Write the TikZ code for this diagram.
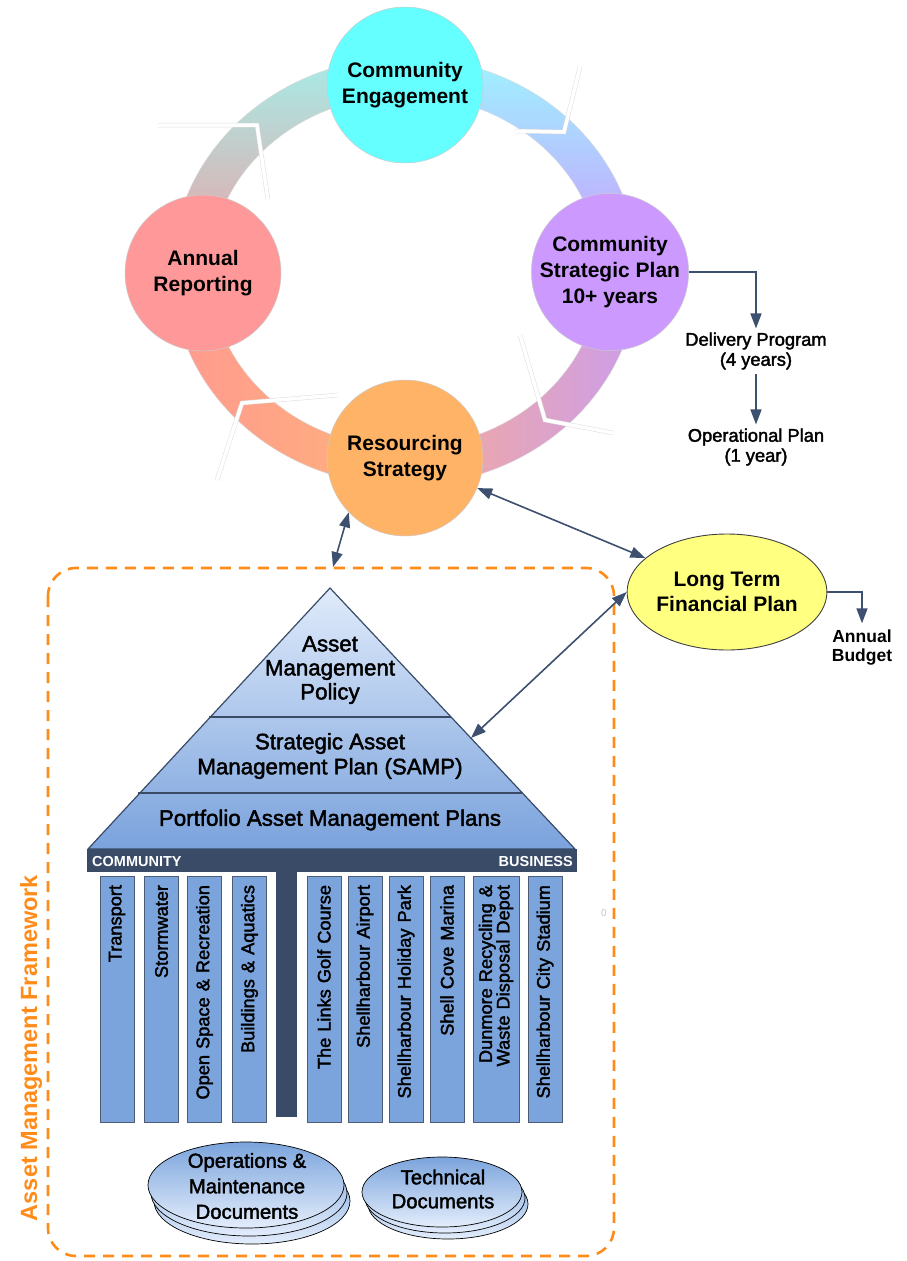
\documentclass[tikz,border=0pt]{standalone}
\usepackage{fontspec}
\setmainfont{Liberation Sans}
\newfontfamily\medfont{Liberation Sans}[FakeBold=2]
\usetikzlibrary{arrows.meta,calc,shapes.geometric}

\definecolor{navy}{HTML}{3D5070}
\definecolor{slate}{HTML}{3A4B68}
\definecolor{colblue}{HTML}{7BA4DC}
\definecolor{colline}{HTML}{4D5D75}
\definecolor{pyrtop}{HTML}{E0EBFB}
\definecolor{pyrbot}{HTML}{7AA2DC}
\definecolor{framecol}{HTML}{FF8C1A}
\definecolor{cecol}{HTML}{66FFFF}
\definecolor{arcol}{HTML}{FF9999}
\definecolor{cspcol}{HTML}{CC99FF}
\definecolor{rscol}{HTML}{FFB366}
\definecolor{ltcol}{HTML}{FFFF80}
\definecolor{ringA}{HTML}{A6ECE7}
\definecolor{ringB}{HTML}{EE9FA3}
\definecolor{ringC}{HTML}{9EF3FF}
\definecolor{ringD}{HTML}{CC98FF}
\definecolor{ringE}{HTML}{F6AA98}
\definecolor{ringF}{HTML}{CC9EEA}
\definecolor{ringG}{HTML}{FF9A90}
\definecolor{ringH}{HTML}{FFB37A}

\tikzset{
  stage/.style={circle, minimum size=156pt, inner sep=0pt, draw=gray!40, line width=0.5pt,
    align=center, font=\bfseries\fontsize{21}{26}\selectfont},
  small/.style={align=center, inner sep=1pt, font=\medfont\fontsize{18.3}{20}\selectfont},
  pyrtext/.style={align=center, inner sep=0pt, font=\medfont\fontsize{22.3}{24}\selectfont},
  colbox/.style={rotate=90, draw=colline, fill=colblue, line width=0.8pt, minimum height=34pt,
    text width=228pt, align=right, inner xsep=9pt, inner ysep=0pt,
    font=\medfont\fontsize{18.2}{17.5}\selectfont},
  arr/.style={draw=navy, line width=1.6pt, -{Triangle[length=15pt,width=11pt]}},
  darr/.style={draw=navy, line width=1.6pt, {Triangle[length=15pt,width=11pt]}-{Triangle[length=15pt,width=11pt]}},
  gap/.style={draw=gray!25, double=white, double distance=3.5pt, line width=0.5pt, line join=miter},
  docfill/.style={top color=colblue, bottom color=pyrtop!90!white, draw=black, line width=0.7pt},
  ringpart/.style={draw=gray!30, line width=0.4pt},
}

\begin{document}
\begin{tikzpicture}[x=1pt,y=-1pt]
\fill[white] (0,0) rectangle (906,1261);
\useasboundingbox (0,0) rectangle (906,1261);

% ---- planning cycle ring ----
\coordinate (rc) at (405,271.5);
\shade[ringpart, top color=ringA, bottom color=ringB]
  (rc) ++(180:233 and 214) arc[start angle=180,end angle=270,x radius=233,y radius=214]
  -- ($(rc)+(270:195 and 176)$) arc[start angle=270,end angle=180,x radius=195,y radius=176] -- cycle;
\shade[ringpart, top color=ringC, bottom color=ringD]
  (rc) ++(270:233 and 214) arc[start angle=270,end angle=360,x radius=233,y radius=214]
  -- ($(rc)+(0:195 and 176)$) arc[start angle=360,end angle=270,x radius=195,y radius=176] -- cycle;
\shade[ringpart, left color=ringE, right color=ringF]
  (rc) ++(0:233 and 214) arc[start angle=0,end angle=90,x radius=233,y radius=214]
  -- ($(rc)+(90:195 and 176)$) arc[start angle=90,end angle=0,x radius=195,y radius=176] -- cycle;
\shade[ringpart, left color=ringG, right color=ringH]
  (rc) ++(90:233 and 214) arc[start angle=90,end angle=180,x radius=233,y radius=214]
  -- ($(rc)+(180:195 and 176)$) arc[start angle=180,end angle=90,x radius=195,y radius=176] -- cycle;

% white notches across the ring
\draw[gap] (158,125) -- (257,125) -- (268,200);
\draw[gap] (515,131) -- (564,132) -- (580,67);
\draw[gap] (520,335) -- (545,420) -- (613,433);
\draw[gap] (338,395) -- (242,403) -- (217,480);

% ---- stages ----
\node[stage, fill=cecol]  (ce)  at (405,85)  {Community\\Engagement};
\node[stage, fill=arcol]  (ar)  at (203,273) {Annual\\Reporting};
\node[stage, fill=cspcol] (csp) at (610,272) {Community\\Strategic Plan\\10+ years};
\node[stage, fill=rscol]  (rs)  at (405,458) {Resourcing\\Strategy};

% ---- delivery chain ----
\node[small, outer sep=3pt] (dp) at (756,351) {Delivery Program\\(4 years)};
\node[small, outer sep=3pt] (op) at (756,447) {Operational Plan\\(1 year)};
\draw[arr] (csp.east) -| (dp.north);
\draw[arr] (dp.south) -- (op.north);

% ---- long term financial plan ----
\node[ellipse, minimum width=172pt, minimum height=116pt, inner sep=0pt, fill=ltcol,
      draw=black!75, line width=0.9pt, align=center,
      font=\bfseries\fontsize{21}{25}\selectfont] (lt) at (727,592) {Long Term\\Financial Plan};
\node[small, font=\bfseries\fontsize{17.5}{19}\selectfont, outer sep=6pt] (ab) at (862,648) {Annual\\Budget};
\draw[arr] (lt.east) -| (ab.north);

% ---- asset management framework ----
\draw[framecol, line width=2.6pt, dash pattern=on 11pt off 8pt, rounded corners=28pt]
  (48,568) rectangle (614,1256);
\node[rotate=90, text=framecol, font=\bfseries\fontsize{23.5}{24}\selectfont] (amf) at (31,1048)
  {Asset Management Framework};

% pyramid
\shade[top color=pyrtop, bottom color=pyrbot] (330,588) -- (575,849) -- (88,849) -- cycle;
\draw[slate, line width=1.2pt, line join=round] (330,588) -- (575,849) -- (88,849) -- cycle;
\draw[slate, line width=1.2pt] (209,717) -- (451,717);
\draw[slate, line width=1.2pt] (138,793) -- (522,793);
\node[pyrtext] (pol)  at (330,670) {Asset\\Management\\Policy};
\node[pyrtext, font=\medfont\fontsize{22.3}{25}\selectfont] (samp) at (330,756) {Strategic Asset\\Management Plan (SAMP)};
\node[pyrtext] (pamp) at (330,820) {Portfolio Asset Management Plans};

% category bar and stem
\fill[slate] (87,849) rectangle (577,872);
\fill[slate] (276,872) rectangle (297,1117);
\node[anchor=west, text=white, inner sep=0pt, font=\bfseries\fontsize{14.5}{15}\selectfont] (comm) at (92,861) {COMMUNITY};
\node[anchor=east, text=white, inner sep=0pt, font=\bfseries\fontsize{14.5}{15}\selectfont] (bus) at (573,861) {BUSINESS};

% portfolio columns
\node[colbox] (c1)  at (117,999)   {Transport};
\node[colbox] (c2)  at (161.5,999) {Stormwater};
\node[colbox] (c3)  at (204.5,999) {Open Space \& Recreation};
\node[colbox] (c4)  at (249.5,999) {Buildings \& Aquatics};
\node[colbox] (c5)  at (324,999)   {The Links Golf Course};
\node[colbox] (c6)  at (365,999)   {Shellharbour Airport};
\node[colbox] (c7)  at (406,999)   {Shellharbour Holiday Park};
\node[colbox] (c8)  at (447,999)   {Shell Cove Marina};
\node[colbox, minimum height=46pt] (c9) at (496,999) {Dunmore Recycling \&\\Waste Disposal Depot};
\node[colbox] (c10) at (545,999)   {Shellharbour City Stadium};

% document stacks
\foreach \d in {2,1,0} {
  \shade[docfill] ($(246,1185)+(3*\d,8*\d)$) ellipse[x radius=98, y radius=43];
  \shade[docfill] ($(442,1192)+(3*\d,6*\d)$) ellipse[x radius=80, y radius=35];
}
\node[pyrtext, font=\medfont\fontsize{20.3}{25.5}\selectfont] (om) at (247,1186) {Operations \&\\Maintenance\\Documents};
\node[pyrtext, font=\medfont\fontsize{20.3}{24}\selectfont] (td) at (443,1189) {Technical\\Documents};

\node[text=gray!45, inner sep=0pt, font=\fontsize{10}{10}\selectfont] (zero) at (604,913) {0};

% ---- links between plans ----
\coordinate (ptop)  at (333,567);
\coordinate (pedge) at (471,738);
\draw[darr] (rs) -- (lt);
\draw[darr] (rs.-136) -- (ptop);
\draw[darr] (lt.west) -- (pedge);
\end{tikzpicture}
\end{document}
